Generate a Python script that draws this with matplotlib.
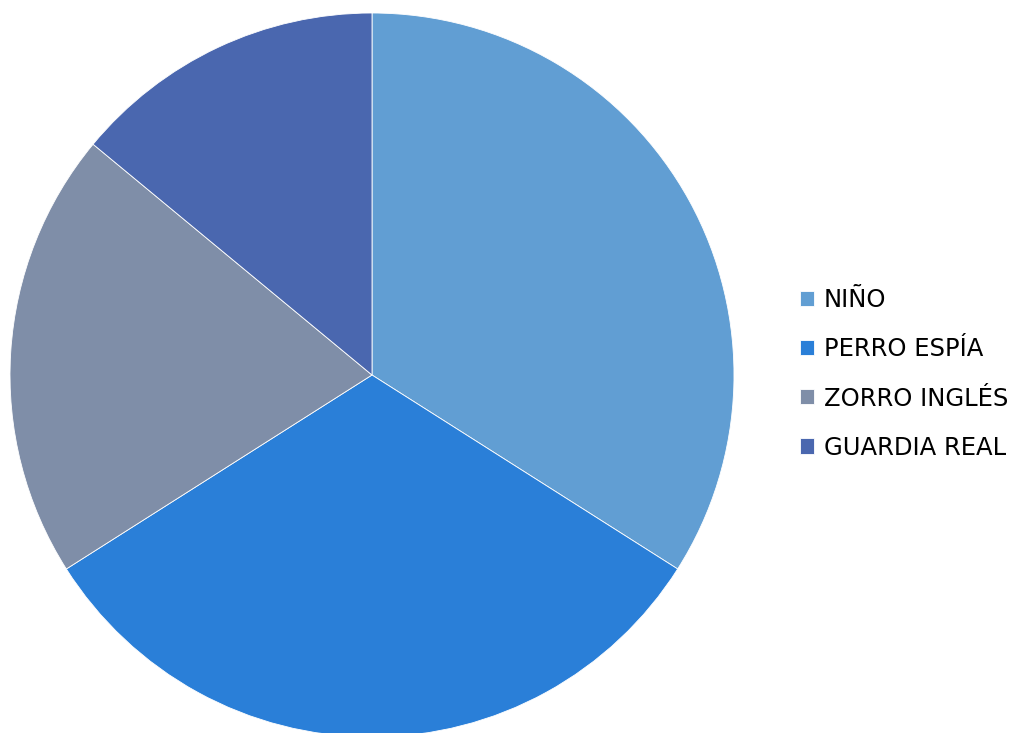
import matplotlib
matplotlib.use("Agg")
import matplotlib.pyplot as plt

# Chart data (percent shares)
labels = ["NIÑO", "PERRO ESPÍA", "ZORRO INGLÉS", "GUARDIA REAL"]
shares = [34, 32, 20, 14]
colors = ["#619ED3", "#2A7FD8", "#7F8EA8", "#4A67AF"]

plt.rcParams["font.family"] = ["DejaVu Sans"]

W, H = 1019, 733
fig = plt.figure(figsize=(W / 100, H / 100), dpi=100)

# pie centre (372, 375) px from top, radius 362 px
cx, cy, r = 372, H - 375, 362
ax = fig.add_axes([(cx - r) / W, (cy - r) / H, 2 * r / W, 2 * r / H])
wedges, _ = ax.pie(
    shares,
    colors=colors,
    startangle=90,
    counterclock=False,
    radius=1.0,
    wedgeprops={"edgecolor": "white", "linewidth": 0.6},
)
ax.set_xlim(-1, 1)
ax.set_ylim(-1, 1)
ax.set_aspect("equal")
ax.axis("off")

fig.legend(
    wedges,
    labels,
    loc="center left",
    bbox_to_anchor=(800 / W, 1 - 374 / H),
    frameon=False,
    fontsize=17.5,
    handlelength=0.58,
    handleheight=0.58,
    handletextpad=0.4,
    labelspacing=1.03,
    borderpad=0,
    borderaxespad=0,
)

fig.savefig("out.png", dpi=100)
